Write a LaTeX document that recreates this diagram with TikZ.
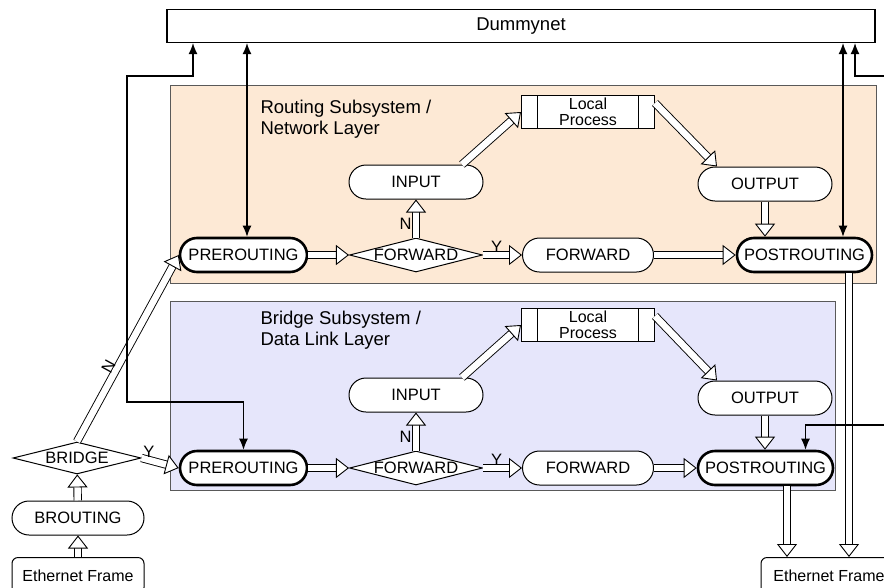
\documentclass[tikz,border=0pt]{standalone}
\usepackage{fontspec}
\setmainfont{Liberation Sans}
\usetikzlibrary{arrows.meta,shapes.geometric}

\definecolor{routefill}{HTML}{FDE9D5}
\definecolor{bridgefill}{HTML}{E6E6FB}

\tikzset{
  pill/.style={draw, rectangle, rounded corners=17pt, fill=white, minimum width=134pt,
    minimum height=34pt, inner sep=0pt, line width=1pt},
  hook/.style={pill, line width=2.6pt},
  decision/.style={draw, diamond, aspect=4, fill=white, minimum width=133pt,
    minimum height=34pt, inner sep=0pt, line width=1pt},
  process/.style={draw, rectangle, fill=white, minimum width=133pt, minimum height=33pt,
    inner sep=0pt, line width=1pt, align=center,
    path picture={\draw[line width=1pt]
      ([xshift=16pt]path picture bounding box.north west) -- ([xshift=16pt]path picture bounding box.south west)
      ([xshift=-16pt]path picture bounding box.north east) -- ([xshift=-16pt]path picture bounding box.south east);}},
  frame/.style={draw, rectangle, rounded corners=6pt, fill=white, minimum width=132pt,
    minimum height=36pt, line width=1pt, anchor=north},
  flow/.style={draw, line width=0.9pt, double=white, double distance=6.5pt,
    -{Triangle[open, fill=white, length=13pt, width=20pt, line width=0.9pt]}},
  link/.style={draw, line width=1.2pt, -{Latex[length=11pt, width=9pt]}},
  both/.style={link, {Latex[length=11pt, width=9pt]}-{Latex[length=11pt, width=9pt]}},
  lbl/.style={inner sep=2pt}
}

\begin{document}
\begin{tikzpicture}[x=1pt, y=-1pt, font=\fontsize{16.5}{16.5}\selectfont]
  \useasboundingbox (0,0) rectangle (884,587);

  % the two layers
  \filldraw[draw=black!65, fill=routefill, line width=1pt] (170,85) rectangle (876,283);
  \filldraw[draw=black!65, fill=bridgefill, line width=1pt] (170,301) rectangle (835,490);
  \node[align=left, anchor=north west, font=\fontsize{18.5}{21}\selectfont] (rtitle) at (257,97) {Routing Subsystem /\\Network Layer};
  \node[align=left, anchor=north west, font=\fontsize{18.5}{21}\selectfont] (btitle) at (257,308) {Bridge Subsystem /\\Data Link Layer};

  \node[draw, line width=1.2pt, minimum width=708pt, minimum height=33pt,
    font=\fontsize{18.5}{18.5}\selectfont] (dummy) at (521,26) {Dummynet};

  % routing subsystem
  \node[hook, minimum width=127pt] (rpre) at (243.5,255) {PREROUTING};
  \node[decision] (rfwd) at (416,255) {FORWARD};
  \node[pill] (rin) at (416,182) {INPUT};
  \node[process, font=\fontsize{16}{16}\selectfont] (rlp) at (588,112) {Local\\Process};
  \node[pill, minimum width=131pt] (rfw) at (588,255) {FORWARD};
  \node[pill] (rout) at (765,184) {OUTPUT};
  \node[hook, minimum width=135pt] (rpost) at (804.5,255) {POSTROUTING};

  % bridge subsystem
  \node[hook, minimum width=127pt] (bpre) at (243.5,468) {PREROUTING};
  \node[decision] (bfwd) at (416,468) {FORWARD};
  \node[pill] (bin) at (416,395) {INPUT};
  \node[process, font=\fontsize{16}{16}\selectfont] (blp) at (588,325) {Local\\Process};
  \node[pill, minimum width=131pt] (bfw) at (588,468) {FORWARD};
  \node[pill] (bout) at (765,398) {OUTPUT};
  \node[hook, minimum width=135pt] (bpost) at (765.5,468) {POSTROUTING};

  % entry and exit
  \node[decision, minimum width=128pt, minimum height=32pt] (bridge) at (77,458) {BRIDGE};
  \node[pill, minimum width=132pt] (brout) at (78,518) {BROUTING};
  \node[frame, font=\fontsize{16}{16}\selectfont] (ethin) at (78,557) {Ethernet Frame};
  \node[frame, minimum width=136pt, font=\fontsize{16}{16}\selectfont] (ethout) at (829,557) {Ethernet Frame};

  % packet flow
  \draw[flow] (rpre) -- (rfwd);
  \draw[flow] (rfwd) -- node[lbl, above, pos=0.35] {Y} (rfw);
  \draw[flow] (rfwd) -- node[lbl, left, pos=0.35, xshift=-2pt] {N} (rin);
  \draw[flow] ([xshift=46pt]rin.north) -- (rlp.west);
  \draw[flow] ([yshift=9pt]rlp.east) -- ([xshift=-48pt]rout.north);
  \draw[flow] (rout.south) -- (rout.south |- rpost.north);
  \draw[flow] (rfw) -- (rpost);

  \draw[flow] (bpre) -- (bfwd);
  \draw[flow] (bfwd) -- node[lbl, above, pos=0.35] {Y} (bfw);
  \draw[flow] (bfwd) -- node[lbl, left, pos=0.35, xshift=-2pt] {N} (bin);
  \draw[flow] ([xshift=46pt]bin.north) -- (blp.west);
  \draw[flow] ([yshift=9pt]blp.east) -- ([xshift=-48pt]bout.north);
  \draw[flow] (bout.south) -- (bout.south |- bpost.north);
  \draw[flow] (bfw) -- (bpost);

  \draw[flow] (ethin) -- (brout);
  \draw[flow] (brout) -- (bridge);
  \draw[flow] (bridge.north) -- node[lbl, above, sloped, pos=0.38] {N} (rpre.west);
  \draw[flow] (bridge.east) -- node[lbl, above, pos=0.2] {Y} (bpre.west);
  \draw[flow] ([xshift=21.5pt]bpost.south) -- ([xshift=21.5pt]bpost.south |- ethout.north);
  \draw[flow] ([xshift=44.5pt]rpost.south) -- ([xshift=44.5pt]rpost.south |- ethout.north);

  % dummynet links
  \coordinate (uplink) at (193,0);
  \coordinate (lbend) at (127,76);
  \coordinate (lfoot) at (127,402);
  \coordinate (dnx) at (855,0);
  \coordinate (rtop) at (884,76);
  \coordinate (rlow) at (884,425);
  \draw[both] ([xshift=3.5pt]rpre.north) -- ([xshift=3.5pt]rpre.north |- dummy.south);
  \draw[both] (dummy.south -| uplink) |- (lbend) -- (lfoot) -| (bpre.north);
  \draw[both] ([xshift=38.5pt]rpost.north) -- ([xshift=38.5pt]rpost.north |- dummy.south);
  \draw[link] (rtop) -| (dummy.south -| dnx);
  \draw[link] (rlow) -| ([xshift=40pt]bpost.north);
\end{tikzpicture}
\end{document}
